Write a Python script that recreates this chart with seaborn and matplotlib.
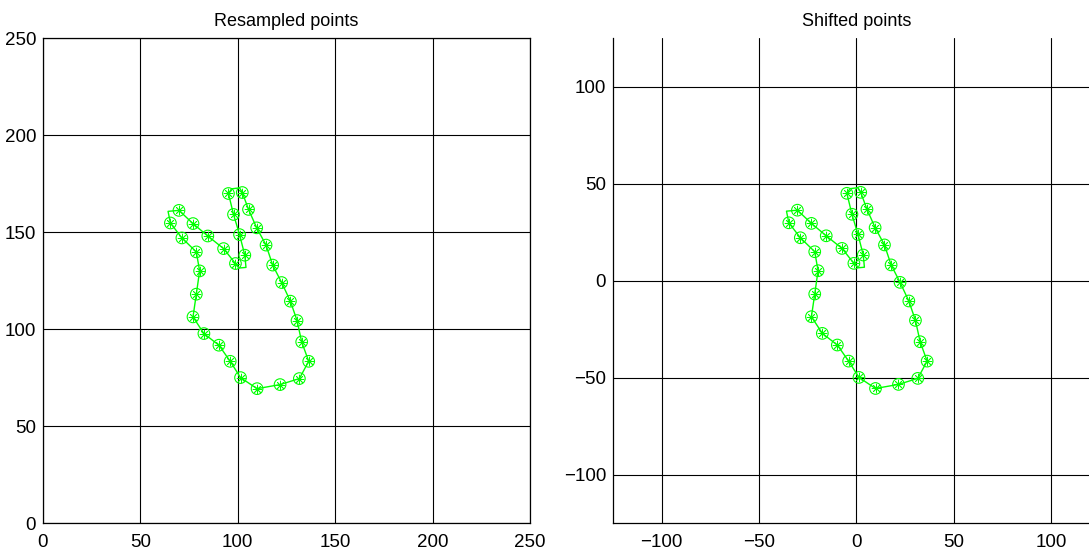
import numpy as np
import pandas as pd
import matplotlib
matplotlib.use("Agg")
import matplotlib.pyplot as plt
import seaborn as sns

# ---- data ----
# resampled points (markers), in order around the closed contour
res_x = [65.4, 71.3, 78.7, 80.4, 78.7, 77.0, 82.6, 90.3, 96.1, 101.4,
         109.9, 121.7, 131.6, 136.4, 132.8, 130.4, 127.0, 122.5, 117.9, 114.5,
         109.7, 105.5, 102.3, 95.2, 97.8, 100.9, 103.6, 98.8, 92.7, 84.6,
         77.0, 69.8]
res_y = [154.8, 147.1, 139.9, 130.1, 118.1, 106.4, 97.8, 91.8, 83.5, 75.1,
         69.4, 71.5, 74.6, 83.5, 93.5, 104.5, 114.5, 124.1, 133.1, 143.4,
         152.3, 161.8, 170.5, 170.0, 159.2, 148.8, 138.2, 133.9, 141.6, 148.1,
         154.5, 161.3]

# contour line vertices (markers plus a few corner vertices), closed
line_x = [65.4, 71.3, 78.7, 80.4, 78.7, 77.0, 82.6, 90.3, 96.1, 101.4,
          109.9, 121.7, 131.6, 136.4, 132.8, 130.4, 127.0, 122.5, 117.9, 114.5,
          109.7, 105.5, 102.3, 100.9, 96.8, 95.2, 97.8, 100.9, 103.6, 104.2,
          100.9, 98.8, 92.7, 84.6, 77.0, 69.8, 64.2, 65.4]
line_y = [154.8, 147.1, 139.9, 130.1, 118.1, 106.4, 97.8, 91.8, 83.5, 75.1,
          69.4, 71.5, 74.6, 83.5, 93.5, 104.5, 114.5, 124.1, 133.1, 143.4,
          152.3, 161.8, 170.5, 172.9, 172.4, 170.0, 159.2, 148.8, 138.2, 131.9,
          131.6, 133.9, 141.6, 148.1, 154.5, 161.3, 160.8, 154.8]

left_ticks = [0, 50, 100, 150, 200, 250]
right_ticks = [-100, -50, 0, 50, 100]
titles = ["Resampled points", "Shifted points"]

# ---- derived: shifted = resampled minus centroid ----
cx, cy = np.mean(res_x), np.mean(res_y)
pts = pd.DataFrame({"x": res_x, "y": res_y})
cont = pd.DataFrame({"x": line_x, "y": line_y})
pts_s = pd.DataFrame({"x": np.array(res_x) - cx, "y": np.array(res_y) - cy})
cont_s = pd.DataFrame({"x": np.array(line_x) - cx, "y": np.array(line_y) - cy})

sns.set_style("white")
plt.rcParams["font.family"] = ["Liberation Sans", "DejaVu Sans"]

W, H = 1089, 550
fig = plt.figure(figsize=(W / 100, H / 100), dpi=100)
ax1 = fig.add_axes([43 / W, (H - 523.3) / H, 487 / W, 485 / H])
ax2 = fig.add_axes([613 / W, (H - 523.3) / H, 487 / W, 485 / H])

GREEN = (0, 1, 0)


def draw(ax, c, p):
    sns.lineplot(data=c, x="x", y="y", sort=False, estimator=None,
                 color=GREEN, lw=1.0, ax=ax, zorder=3)
    sns.scatterplot(data=p, x="x", y="y", marker="o", s=70,
                    facecolors="none", edgecolor=GREEN, linewidth=0.8,
                    ax=ax, zorder=4)
    sns.scatterplot(data=p, x="x", y="y", marker=(8, 2, 0), s=40,
                    color=GREEN, edgecolor=GREEN, linewidth=0.6,
                    ax=ax, zorder=4)


draw(ax1, cont, pts)
draw(ax2, cont_s, pts_s)

ax1.set_xlim(0, 250)
ax1.set_ylim(0, 250)
ax1.set_xticks(left_ticks)
ax1.set_yticks(left_ticks)
ax2.set_xlim(-125, 125)
ax2.set_ylim(-125, 125)
ax2.set_xticks(right_ticks)
ax2.set_yticks(right_ticks)

for ax, t in zip((ax1, ax2), titles):
    ax.set_xlabel("")
    ax.set_ylabel("")
    ax.set_title(t, fontsize=13, pad=9, color="black")
    ax.grid(True, color="black", lw=0.8, ls="-")
    ax.set_axisbelow(True)
    ax.tick_params(axis="both", length=0, labelsize=13.5, colors="black")
    ax.tick_params(axis="x", pad=8)
    ax.tick_params(axis="y", pad=5)
    for s in ax.spines.values():
        s.set_color("black")
        s.set_linewidth(0.9)
        s.set_visible(True)

ax2.spines["top"].set_visible(False)
ax2.spines["right"].set_visible(False)

fig.savefig("out.png", dpi=100, facecolor="white")
